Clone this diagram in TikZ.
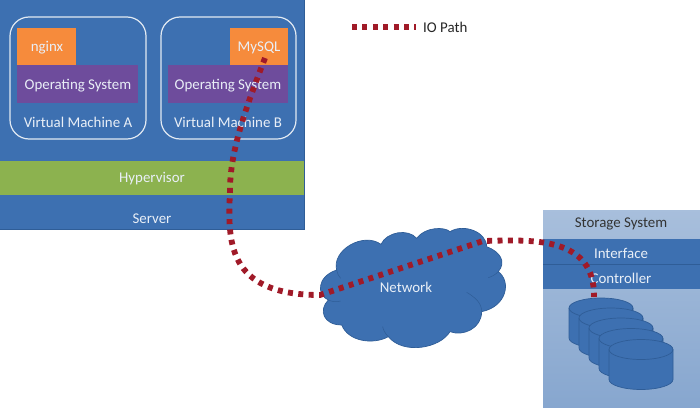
\documentclass[tikz,border=0pt]{standalone}
\usepackage{fontspec}
\setmainfont{Carlito}
\usetikzlibrary{calc}
\definecolor{blu}{HTML}{3D70B1}
\definecolor{bluedge}{HTML}{2F5D97}
\definecolor{grn}{HTML}{8CB24F}
\definecolor{org}{HTML}{F68B3C}
\definecolor{pur}{HTML}{6E4C9C}
\definecolor{iored}{HTML}{A01A28}
\definecolor{txt}{HTML}{E9EFF7}
\tikzset{
  x=1pt,y=-1pt,
  lab/.style={font=\fontsize{14.9}{16}\selectfont,text=txt,inner sep=0pt,anchor=center,yshift=-1pt},
  dark/.style={lab,text=black!80},
  vmbox/.style={draw=white!85!blu,line width=1.2pt,rounded corners=19pt,fill=none},
  disk/.style={fill=blu,draw=bluedge,line width=0.7pt},
  iopath/.style={draw=iored,line width=5.8pt,dash pattern=on 5pt off 5.4pt},
}
\newcommand{\cyl}[1]{%
  \begin{scope}[shift={(#1)}]
   \path[disk] (-32,0) -- (-32,30) arc[start angle=180,end angle=360,x radius=32,y radius=-10] -- (32,0) arc[start angle=0,end angle=180,x radius=32,y radius=-10] -- cycle;
   \path[draw=bluedge,line width=0.7pt] (-32,0) arc[start angle=180,end angle=360,x radius=32,y radius=-10];
  \end{scope}}
\begin{document}
\begin{tikzpicture}
\useasboundingbox (0,0) rectangle (700,407);
% server
\fill[blu] (0,0) rectangle (304,229);
\draw[bluedge,line width=.6pt] (0,229) -- (304,229) -- (304,0);
\fill[grn] (0,161) rectangle (304,195);
\node[lab] (hyp) at (152,178) {Hypervisor};
\node[lab] (srv) at (152,218) {Server};
% VM A
\draw[vmbox] (10,17) rectangle (146,139);
\fill[org] (17,28) rectangle (76,65);
\node[lab] (ng) at (47,47) {nginx};
\fill[pur] (17,65) rectangle (138,103);
\node[lab] (osa) at (78,85) {Operating System};
\node[lab] (vma) at (78,121) {Virtual Machine A};
% VM B
\draw[vmbox] (161,17) rectangle (296,139);
\fill[org] (230,28) rectangle (288,65);
\node[lab] (my) at (259,47) {MySQL};
\fill[pur] (168,65) rectangle (288,103);
\node[lab] (osb) at (228,85) {Operating System};
\node[lab] (vmb) at (228,121) {Virtual Machine B};
% storage
\shade[top color=blu!45!white,bottom color=blu!62!white] (543,210) rectangle (700,407);
\fill[blu] (543,239) rectangle (700,289);
\draw[bluedge,line width=.6pt] (543,264) -- (700,264);
\node[dark] (st) at (621,223) {Storage System};
\node[lab] (if) at (621,252) {Interface};
\node[lab] (ct) at (621,277) {Controller};
\cyl{601,308}
\cyl{611,318}
\cyl{621,328}
\cyl{631,338.5}
\cyl{641,349.5}
% cloud
\begin{scope}[xshift=220pt,yshift=-215pt,x=.3333pt,y=-.3333pt]
\path[fill=blu,draw=bluedge,line width=.7pt] (325,255)
 .. controls (290,240) and (290,185) .. (350,165)
 .. controls (335,105) and (430,50) .. (483,88)
 .. controls (500,50) and (565,40) .. (590,70)
 .. controls (615,35) and (675,35) .. (690,50)
 .. controls (730,25) and (800,50) .. (800,95)
 .. controls (840,110) and (860,140) .. (835,170)
 .. controls (875,200) and (860,275) .. (785,290)
 .. controls (785,340) and (730,365) .. (690,350)
 .. controls (660,400) and (550,420) .. (505,365)
 .. controls (460,390) and (385,380) .. (365,330)
 .. controls (310,330) and (295,285) .. (325,255) -- cycle;
\draw[bluedge,line width=.5pt] (325,255) .. controls (335,260) and (350,262) .. (362,258);
\draw[bluedge,line width=.5pt] (350,165) .. controls (352,175) and (356,185) .. (362,190);
\draw[bluedge,line width=.5pt] (785,290) .. controls (785,275) and (780,255) .. (740,232);
\draw[bluedge,line width=.5pt] (835,170) .. controls (825,180) and (815,185) .. (805,188);
\draw[bluedge,line width=.5pt] (505,365) .. controls (495,355) and (490,345) .. (488,335);
\end{scope}
\node[lab] (net) at (406,286) {Network};
% IO path
\coordinate (a) at (265,58);
\coordinate (b) at (230,190);
\coordinate (c) at (320,295);
\coordinate (d) at (483,241);
\coordinate (e) at (594,297);
\draw[iopath] (a) .. controls (247,105) and (230,150) .. (b)
  .. controls (228,240) and (225,295) .. (c)
  -- (d) .. controls (530,240) and (595,235) .. (e);
% legend
\coordinate (la) at (352,27);
\coordinate (lb) at (416,27);
\draw[iopath] (la) -- (lb);
\node[lab,text=black!85,anchor=west] (leg) at (423,26.5) {IO Path};
\end{tikzpicture}
\end{document}
